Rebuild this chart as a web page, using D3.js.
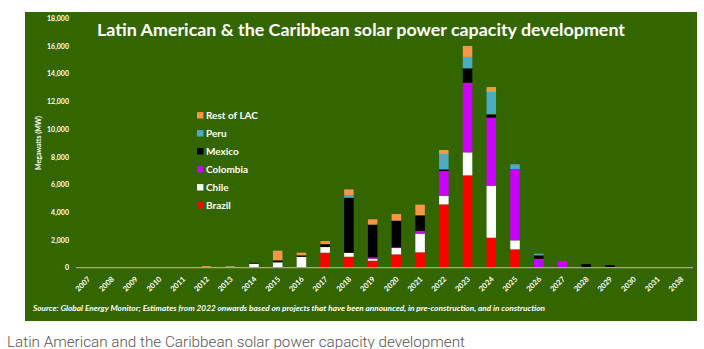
<!DOCTYPE html>
<html>
<head>
<meta charset="utf-8">
<script src="https://cdn.jsdelivr.net/npm/d3@7/dist/d3.min.js"></script>
<style>
  body { margin: 0; background: #fff; }
  svg { display: block; }
</style>
</head>
<body>
<svg id="chart"></svg>
<script>
// categories
var years = ["2007","2008","2009","2010","2011","2012","2013","2014","2015","2016","2017","2018","2019",
             "2020","2021","2022","2023","2024","2025","2026","2027","2028","2029","2030","2031","2038"];

// capacity additions per country (MW)
var brazil   = [0,0,0,0,0, 0,0,0,0,0, 1080,790,505,960,1110, 4570,6665,2165,1325, 0,0,0,0,0,0,0];
var chile    = [0,0,0,0,0, 0,80,290,390,790, 410,290,145,460,1350, 625,1660,3755,650, 0,0,0,0,0,0,0];
var colombia = [0,0,0,0,0, 0,0,0,0,0, 0,0,100,50,190, 1780,5030,4910,5150, 650,480,0,0,0,40,0];
var mexico   = [0,0,0,0,0, 0,0,60,140,100, 210,3970,2360,1925,1130, 120,1035,240,0, 240,0,265,190,0,0,0];
var peru     = [0,0,0,0,0, 60,0,0,0,0, 0,190,0,0,0, 1110,820,1610,340, 120,0,0,0,0,0,0];
var restLAC  = [0,0,0,0,0, 60,0,0,700,190, 220,410,385,480,770, 290,795,360,0, 0,0,0,0,0,0,0];

var yTicks = [0,2000,4000,6000,8000,10000,12000,14000,16000,18000];

var series = [
  {name: "Brazil",      values: brazil,   color: "#ff0000"},
  {name: "Chile",       values: chile,    color: "#ffffff"},
  {name: "Colombia",    values: colombia, color: "#cc00ff"},
  {name: "Mexico",      values: mexico,   color: "#000000"},
  {name: "Peru",        values: peru,     color: "#4bacc6"},
  {name: "Rest of LAC", values: restLAC,  color: "#f79646"}
];

var W = 704, H = 349;
var svg = d3.select("#chart").attr("width", W).attr("height", H);

// green panel
svg.append("rect")
  .attr("x", 25).attr("y", 12)
  .attr("width", 672).attr("height", 309)
  .attr("fill", "#336600");

var x = d3.scaleBand().domain(years).range([76, 693]).paddingInner(0.6).paddingOuter(0.3);
var y = d3.scaleLinear().domain([0, 18000]).range([267.7, 18.3]);

// build table for the stack
var rows = years.map(function(yr, i) {
  var r = {year: yr};
  series.forEach(function(s) { r[s.name] = s.values[i]; });
  return r;
});
var stack = d3.stack().keys(series.map(function(s) { return s.name; }));
var stacked = stack(rows);

svg.append("g").selectAll("g")
  .data(stacked)
  .join("g")
  .attr("fill", function(d, i) { return series[i].color; })
  .selectAll("rect")
  .data(function(d) { return d; })
  .join("rect")
  .attr("x", function(d) { return x(d.data.year); })
  .attr("width", x.bandwidth())
  .attr("y", function(d) { return y(d[1]); })
  .attr("height", function(d) { return y(d[0]) - y(d[1]); });

// x axis
var xAxis = svg.append("g")
  .attr("transform", "translate(0," + y(0) + ")")
  .call(d3.axisBottom(x).tickSize(0).tickPadding(0));
xAxis.select(".domain").attr("stroke", "#a6a6a6").attr("stroke-width", 1.2)
  .attr("d", "M76,0H693");
xAxis.selectAll("text")
  .attr("fill", "#fff")
  .attr("font-family", "Lato, sans-serif")
  .attr("font-weight", "bold")
  .attr("font-size", "7.5px")
  .attr("text-anchor", "end")
  .attr("dy", 0)
  .attr("y", 0)
  .attr("transform", "translate(3,12) rotate(-45)");

// y axis labels
var yAxis = svg.append("g")
  .attr("transform", "translate(69,0)")
  .call(d3.axisLeft(y).tickValues(yTicks).tickSize(0).tickPadding(0).tickFormat(d3.format(",")));
yAxis.select(".domain").remove();
yAxis.selectAll("text")
  .attr("fill", "#fff")
  .attr("font-family", "Lato, sans-serif")
  .attr("font-weight", "bold")
  .attr("font-size", "7px");

svg.append("text")
  .attr("transform", "translate(41,143) rotate(-90)")
  .attr("text-anchor", "middle")
  .attr("fill", "#fff")
  .attr("font-family", "Lato, sans-serif")
  .attr("font-weight", "bold")
  .attr("font-size", "7px")
  .text("Megawatts (MW)");

// title
svg.append("text")
  .attr("x", 97).attr("y", 36)
  .attr("textLength", 528).attr("lengthAdjust", "spacingAndGlyphs")
  .attr("fill", "#fff")
  .attr("font-family", "Lato, sans-serif")
  .attr("font-weight", "bold")
  .attr("font-size", "17px")
  .text("Latin American & the Caribbean solar power capacity development");

// legend, top entry first
var legend = svg.append("g").selectAll("g")
  .data(series.slice().reverse())
  .join("g")
  .attr("transform", function(d, i) { return "translate(197," + (115.3 + i * 18) + ")"; });
legend.append("rect")
  .attr("x", 0).attr("y", -3.2).attr("width", 6.4).attr("height", 6.4)
  .attr("fill", function(d) { return d.color; });
legend.append("text")
  .attr("x", 9).attr("y", 3.5)
  .attr("fill", "#fff")
  .attr("font-family", "Lato, sans-serif")
  .attr("font-weight", "bold")
  .attr("font-size", "10px")
  .text(function(d) { return d.name; });

// source note
svg.append("text")
  .attr("x", 33).attr("y", 311)
  .attr("textLength", 512).attr("lengthAdjust", "spacingAndGlyphs")
  .attr("fill", "#fff")
  .attr("font-family", "Lato, sans-serif")
  .attr("font-weight", "bold")
  .attr("font-style", "italic")
  .attr("font-size", "7px")
  .text("Source: Global Energy Monitor; Estimates from 2022 onwards based on projects that have been announced,  in pre-construction, and in construction");

// caption under the panel
svg.append("text")
  .attr("x", 7).attr("y", 347)
  .attr("textLength", 458).attr("lengthAdjust", "spacingAndGlyphs")
  .attr("fill", "#555")
  .attr("font-family", "Roboto, sans-serif")
  .attr("font-weight", 300)
  .attr("font-size", "14px")
  .text("Latin American and the Caribbean solar power capacity development");
</script>
</body>
</html>
